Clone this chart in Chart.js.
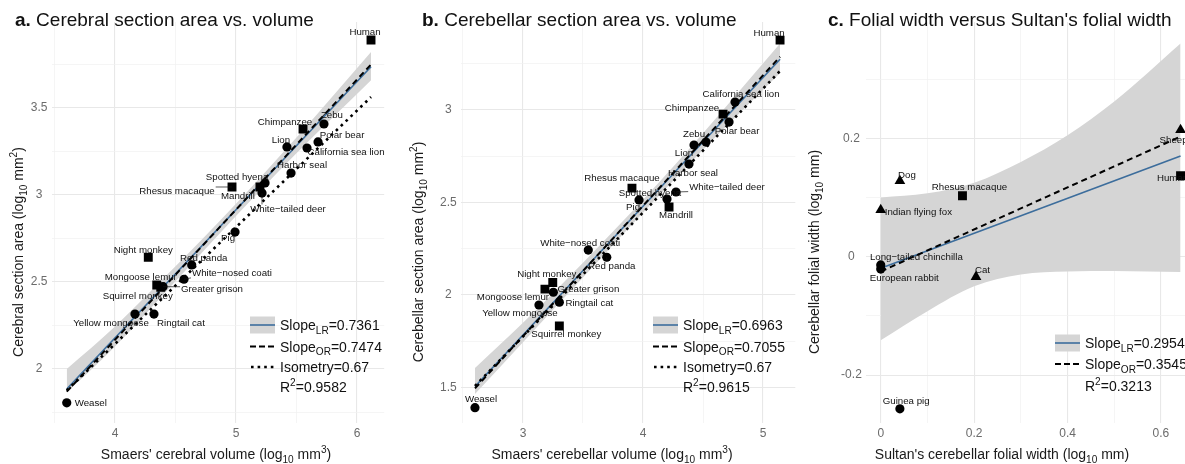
<!DOCTYPE html>
<html><head><meta charset="utf-8">
<script src="https://cdn.jsdelivr.net/npm/chart.js@4.4.0/dist/chart.umd.min.js"></script>
<style>
html,body{margin:0;padding:0;background:#fff;overflow:hidden;width:1185px;height:464px;position:relative;}
.p{position:absolute;top:0;width:400px;height:464px;}
canvas{display:block;}
</style></head><body>
<div class="p" style="left:0"><canvas id="ca" width="400" height="464"></canvas></div>
<div class="p" style="left:400px"><canvas id="cb" width="400" height="464"></canvas></div>
<div class="p" style="left:800px"><canvas id="cc" width="400" height="464"></canvas></div>
<script>
// ================= DATA =================
// Panel a: cerebral section area vs volume
const aNames = ["Human","Chimpanzee","Zebu","Lion","Polar bear","California sea lion","Harbor seal","Spotted hyena","Rhesus macaque","Mandrill","White\u2212tailed deer","Pig","Night monkey","Red panda","White\u2212nosed coati","Mongoose lemur","Greater grison","Squirrel monkey","Yellow mongoose","Ringtail cat","Weasel"];
const aGroup = ["P","P","O","O","O","O","O","O","P","P","O","O","P","O","O","P","O","P","O","O","O"];
const aX = [6.116,5.554,5.727,5.421,5.678,5.587,5.455,5.240,4.967,5.198,5.215,4.992,4.275,4.634,4.570,4.345,4.397,4.378,4.165,4.322,3.601];
const aY = [3.891,3.379,3.408,3.276,3.305,3.270,3.126,3.069,3.046,3.046,3.011,2.787,2.642,2.598,2.516,2.483,2.473,2.470,2.316,2.316,1.806];
const aLrX = [3.601,6.116], aLrY = [1.885,3.737];
const aOrX = [3.601,6.116], aOrY = [1.870,3.750];
const aIsoX = [3.601,6.116], aIsoY = [1.877,3.563];
const aBandX = [3.601,4.0,4.5,5.0,5.5,6.116];
const aBandUp = [2.000,2.245,2.590,2.950,3.330,3.822];
const aBandLo = [1.865,2.130,2.505,2.880,3.240,3.660];
const aXMajor = [4,5,6], aXMinor = [3.5,4.5,5.5];
const aYMajor = [2,2.5,3,3.5], aYMinor = [1.75,2.25,2.75,3.25,3.75];
const aStats = ["0.7361","0.7474","0.67","0.9582"];

// Panel b: cerebellar section area vs volume
const bNames = ["Human","California sea lion","Chimpanzee","Polar bear","Zebu","Lion","Harbor seal","Rhesus macaque","Spotted hyena","White\u2212tailed deer","Pig","Mandrill","White\u2212nosed coati","Red panda","Night monkey","Mongoose lemur","Greater grison","Ringtail cat","Yellow mongoose","Squirrel monkey","Weasel"];
const bGroup = ["P","O","P","O","O","O","O","P","O","O","O","P","O","O","P","P","O","O","O","P","O"];
const bX = [5.142,4.767,4.667,4.717,4.525,4.425,4.383,3.908,4.200,4.275,3.967,4.217,3.544,3.698,3.248,3.183,3.253,3.303,3.133,3.303,2.600];
const bY = [3.378,3.043,2.978,2.935,2.827,2.811,2.708,2.578,2.519,2.557,2.514,2.476,2.243,2.204,2.068,2.032,2.015,1.961,1.946,1.832,1.391];
const bLrX = [2.600,5.142], bLrY = [1.505,3.275];
const bOrX = [2.600,5.142], bOrY = [1.495,3.288];
const bIsoX = [2.600,5.142], bIsoY = [1.508,3.211];
const bBandX = [2.600,3.0,3.5,4.0,4.5,5.142];
const bBandUp = [1.605,1.850,2.175,2.515,2.875,3.360];
const bBandLo = [1.465,1.745,2.095,2.445,2.785,3.200];
const bXMajor = [3,4,5], bXMinor = [2.5,3.5,4.5];
const bYMajor = [1.5,2,2.5,3], bYMinor = [1.75,2.25,2.75,3.25];
const bStats = ["0.6963","0.7055","0.67","0.9615"];

// Panel c: folial width vs Sultan's folial width
const cNames = ["Sheep","Human","Dog","Rhesus macaque","Indian flying fox","Long\u2212tailed chinchilla","European rabbit","Cat","Guinea pig"];
const cGroup = ["T","P","T","P","T","O","O","T","O"];
const cX = [0.642,0.642,0.041,0.175,0.000,0.000,0.000,0.204,0.041];
const cY = [0.214,0.137,0.128,0.103,0.079,-0.014,-0.021,-0.034,-0.257];
const cLrX = [0,0.642], cLrY = [-0.0196,0.170];
const cOrX = [0,0.642], cOrY = [-0.025,0.203];
const cBandX = [0,0.1,0.2,0.3,0.4,0.5,0.642];
const cBandUp = [0.100,0.107,0.125,0.160,0.205,0.262,0.360];
const cBandLo = [-0.141,-0.092,-0.050,-0.030,-0.025,-0.024,-0.026];
const cXMajor = [0,0.2,0.4,0.6], cXMinor = [0.1,0.3,0.5];
const cYMajor = [-0.2,0,0.2], cYMinor = [-0.1,0.1,0.3];
const cStats = ["0.2954","0.3545","0.3213"];

// ================= STYLE / LAYOUT =================
const FONT = '"Liberation Sans", Arial, Helvetica, sans-serif';
const BLUE = '#3c6d9c';
const BAND = '#d5d5d5';
const LBL = 9.7;
const SHAPE = {P:'rect', O:'circle', T:'triangle'};
const RAD = {P:6.3, O:4.6, T:6.2};

const aOff = {"Human":[-6,-8],"Chimpanzee":[-18,-7],"Zebu":[8,-9],"Lion":[-6,-7],"Polar bear":[24,-7],"California sea lion":[39,4],"Harbor seal":[11,-8],"Spotted hyena":[-28,-6],"Rhesus macaque":[-55,4],"Mandrill":[-22,9],"White\u2212tailed deer":[26,16],"Pig":[-7,6],"Night monkey":[-5,-7],"Red panda":[12,-7],"White\u2212nosed coati":[48,-6],"Mongoose lemur":[-16,-8],"Greater grison":[49,3],"Squirrel monkey":[-23,9],"Yellow mongoose":[-24,9],"Ringtail cat":[27,9],"Weasel":[24,1]};
const bOff = {"Human":[-11,-7],"California sea lion":[6,-8],"Chimpanzee":[-31,-6],"Polar bear":[8,9],"Zebu":[-12,-8],"Lion":[-10,8],"Harbor seal":[4,9],"Rhesus macaque":[-10,-10],"Spotted hyena":[-17,-6],"White\u2212tailed deer":[51,-5],"Pig":[-6,7],"Mandrill":[7,8],"White\u2212nosed coati":[-8,-7],"Red panda":[5,9],"Night monkey":[-6,-8],"Mongoose lemur":[-32,8],"Greater grison":[35,-3],"Ringtail cat":[30,1],"Yellow mongoose":[-19,8],"Squirrel monkey":[7,8],"Weasel":[6,-8]};
const cOff = {"Sheep":[-7,10],"Human":[-8,2.5],"Dog":[7,-6],"Rhesus macaque":[7,-8],"Indian flying fox":[37.6,2],"Long\u2212tailed chinchilla":[35.6,-8],"European rabbit":[23.6,9],"Cat":[6.5,-6],"Guinea pig":[6.3,-7.3]};

const CFG = {
  ca: {off:0, names:aNames, group:aGroup, x:aX, y:aY, lrX:aLrX, lrY:aLrY, orX:aOrX, orY:aOrY, isoX:aIsoX, isoY:aIsoY,
       bandX:aBandX, bandUp:aBandUp, bandLo:aBandLo, xMajor:aXMajor, xMinor:aXMinor, yMajor:aYMajor, yMinor:aYMinor,
       xMin:3.475, xMax:6.225, yMin:1.690, yMax:3.994, left:51.5, padR:15.8, top:22, bottom:423,
       lblOff:aOff, leaders:["Rhesus macaque","White\u2212tailed deer","Greater grison","White\u2212nosed coati","Pig"],
       title:[{t:'a.',b:true},{t:' Cerebral section area vs. volume'}], titleX:15,
       xTitle:[{t:"Smaers' cerebral volume (log"},{t:'10',s:'sub'},{t:' mm'},{t:'3',s:'sup'},{t:')'}], xTitleX:216,
       yTitle:[{t:'Cerebral section area (log'},{t:'10',s:'sub'},{t:' mm'},{t:'2',s:'sup'},{t:')'}], yTitleX:18,
       legX:250, legTextX:280, legRows:[325,346.5,367,387], stats:aStats},
  cb: {off:400, names:bNames, group:bGroup, x:bX, y:bY, lrX:bLrX, lrY:bLrY, orX:bOrX, orY:bOrY, isoX:bIsoX, isoY:bIsoY,
       bandX:bBandX, bandUp:bBandUp, bandLo:bBandLo, xMajor:bXMajor, xMinor:bXMinor, yMajor:bYMajor, yMinor:bYMinor,
       xMin:2.481, xMax:5.269, yMin:1.308, yMax:3.476, left:60.7, padR:4.7, top:22, bottom:423,
       lblOff:bOff, leaders:["White\u2212tailed deer","Red panda"],
       title:[{t:'b.',b:true},{t:' Cerebellar section area vs. volume'}], titleX:422,
       xTitle:[{t:"Smaers' cerebellar volume (log"},{t:'10',s:'sub'},{t:' mm'},{t:'3',s:'sup'},{t:')'}], xTitleX:612,
       yTitle:[{t:'Cerebellar section area (log'},{t:'10',s:'sub'},{t:' mm'},{t:'2',s:'sup'},{t:')'}], yTitleX:418,
       legX:653, legTextX:683, legRows:[325,346.5,367,387], stats:bStats},
  cc: {off:800, names:cNames, group:cGroup, x:cX, y:cY, lrX:cLrX, lrY:cLrY, orX:cOrX, orY:cOrY, isoX:null, isoY:null,
       bandX:cBandX, bandUp:cBandUp, bandLo:cBandLo, xMajor:cXMajor, xMinor:cXMinor, yMajor:cYMajor, yMinor:cYMinor,
       xMin:-0.032, xMax:0.674, yMin:-0.281, yMax:0.3965, left:65.8, padR:4.5, top:22, bottom:423,
       lblOff:cOff, leaders:[],
       title:[{t:'c.',b:true},{t:" Folial width versus Sultan's folial width"}], titleX:828,
       xTitle:[{t:"Sultan's cerebellar folial width (log"},{t:'10',s:'sub'},{t:' mm)'}], xTitleX:1002,
       yTitle:[{t:'Cerebellar folial width (log'},{t:'10',s:'sub'},{t:' mm)'}], yTitleX:814,
       legX:1055, legTextX:1085, legRows:[343,364,386], stats:cStats}
};

function pts(xs, ys){ return xs.map((x,i)=>({x:x, y:ys[i]})); }

function drawRich(ctx, segs, x, y, size, align, color){
  const parts = segs.map(s => {
    const fs = s.s ? size*0.72 : size;
    const f = (s.b ? 'bold ' : '') + fs + 'px ' + FONT;
    ctx.font = f;
    return {s:s, f:f, w:ctx.measureText(s.t).width};
  });
  const tw = parts.reduce((a,p)=>a+p.w, 0);
  let cx = align === 'center' ? x - tw/2 : (align === 'right' ? x - tw : x);
  ctx.fillStyle = color; ctx.textAlign = 'left'; ctx.textBaseline = 'alphabetic';
  for (const p of parts){
    ctx.font = p.f;
    const dy = p.s.s === 'sub' ? size*0.28 : (p.s.s === 'sup' ? -size*0.4 : 0);
    ctx.fillText(p.s.t, cx, y + dy);
    cx += p.w;
  }
}

const annot = {
  id:'annot',
  afterDatasetsDraw(chart){
    const c = CFG[chart.canvas.id]; const ctx = chart.ctx;
    const xs = chart.scales.x, ys = chart.scales.y;
    ctx.save();
    ctx.font = LBL + 'px ' + FONT;
    c.names.forEach((nm, i) => {
      const px = xs.getPixelForValue(c.x[i]), py = ys.getPixelForValue(c.y[i]);
      const o = c.lblOff[nm] || [0,-8];
      const lx = px + o[0], ly = py + o[1];
      const w = ctx.measureText(nm).width, h = LBL*0.75;
      if (c.leaders.indexOf(nm) >= 0){
        const bx = Math.max(lx - w/2 - 1, Math.min(px, lx + w/2 + 1));
        const by = Math.max(ly - h/2 - 1, Math.min(py, ly + h/2 + 1));
        ctx.beginPath(); ctx.moveTo(px, py); ctx.lineTo(bx, by);
        ctx.strokeStyle = '#111'; ctx.lineWidth = 0.7; ctx.stroke();
      }
      ctx.fillStyle = '#111'; ctx.textAlign = 'center'; ctx.textBaseline = 'middle';
      ctx.fillText(nm, lx, ly);
    });
    ctx.restore();
  },
  afterDraw(chart){
    const c = CFG[chart.canvas.id]; const ctx = chart.ctx; const o = c.off;
    ctx.save();
    drawRich(ctx, c.title, c.titleX - o, 25.5, 19, 'left', '#111');
    drawRich(ctx, c.xTitle, c.xTitleX - o, 454 + 5, 14, 'center', '#1a1a1a');
    ctx.save();
    ctx.translate(c.yTitleX - o, 252);
    ctx.rotate(-Math.PI/2);
    drawRich(ctx, c.yTitle, 0, 14*0.36, 14, 'center', '#1a1a1a');
    ctx.restore();
    const kx = c.legX - o, tx = c.legTextX - o, r = c.legRows;
    const kinds = c.isoX ? ['band','dash','dot'] : ['band','dash'];
    const labels = c.isoX
      ? [[{t:'Slope'},{t:'LR',s:'sub'},{t:'='+c.stats[0]}],[{t:'Slope'},{t:'OR',s:'sub'},{t:'='+c.stats[1]}],[{t:'Isometry='+c.stats[2]}],[{t:'R'},{t:'2',s:'sup'},{t:'='+c.stats[3]}]]
      : [[{t:'Slope'},{t:'LR',s:'sub'},{t:'='+c.stats[0]}],[{t:'Slope'},{t:'OR',s:'sub'},{t:'='+c.stats[1]}],[{t:'R'},{t:'2',s:'sup'},{t:'='+c.stats[2]}]];
    kinds.forEach((k, i) => {
      const y = r[i];
      ctx.setLineDash([]);
      if (k === 'band'){
        ctx.fillStyle = BAND; ctx.fillRect(kx, y - 8.5, 25, 17);
        ctx.beginPath(); ctx.moveTo(kx, y); ctx.lineTo(kx + 25, y);
        ctx.strokeStyle = BLUE; ctx.lineWidth = 1.6; ctx.stroke();
      } else if (k === 'dash'){
        ctx.setLineDash([6,3]);
        ctx.beginPath(); ctx.moveTo(kx, y); ctx.lineTo(kx + 24, y);
        ctx.strokeStyle = '#000'; ctx.lineWidth = 2; ctx.stroke();
      } else {
        ctx.setLineDash([2.6,4]);
        ctx.beginPath(); ctx.moveTo(kx + 1, y); ctx.lineTo(kx + 25, y);
        ctx.strokeStyle = '#000'; ctx.lineWidth = 2.6; ctx.stroke();
      }
      ctx.setLineDash([]);
    });
    labels.forEach((seg, i) => drawRich(ctx, seg, tx, r[i] + 5, 14, 'left', '#111'));
    ctx.restore();
  }
};

function makePanel(id){
  const c = CFG[id];
  const majX = c.xMajor, majY = c.yMajor;
  const isMaj = (arr, v) => arr.some(m => Math.abs(m - v) < 1e-9);
  const datasets = [
    {data:pts(c.bandX, c.bandUp), fill:'+1', backgroundColor:BAND, borderColor:'rgba(0,0,0,0)', borderWidth:0, pointRadius:0, cubicInterpolationMode:'monotone', order:9},
    {data:pts(c.bandX, c.bandLo), fill:false, borderColor:'rgba(0,0,0,0)', borderWidth:0, pointRadius:0, cubicInterpolationMode:'monotone', order:8},
    {data:pts(c.lrX, c.lrY), fill:false, borderColor:BLUE, borderWidth:1.6, pointRadius:0, order:4},
    {data:pts(c.orX, c.orY), fill:false, borderColor:'#000', borderWidth:2, borderDash:[6,4], pointRadius:0, order:3}
  ];
  if (c.isoX) datasets.push({data:pts(c.isoX, c.isoY), fill:false, borderColor:'#000', borderWidth:2.6, borderDash:[2.6,4.2], pointRadius:0, order:2});
  datasets.push({data:pts(c.x, c.y), showLine:false, fill:false,
    pointStyle: ctx => SHAPE[c.group[ctx.dataIndex]] || 'circle',
    pointRadius: ctx => RAD[c.group[ctx.dataIndex]] || 4.6,
    pointBackgroundColor:'#000', pointBorderColor:'#000', pointBorderWidth:0, order:1});

  const gridOpt = (arr) => ({
    color: ctx => (ctx.tick && isMaj(arr, ctx.tick.value)) ? '#e8e8e8' : '#f0f0f0',
    lineWidth: ctx => (ctx.tick && isMaj(arr, ctx.tick.value)) ? 1.1 : 0.7,
    drawTicks:false
  });
  new Chart(document.getElementById(id), {
    type:'line',
    data:{datasets:datasets},
    options:{
      responsive:false, animation:false, devicePixelRatio:1, events:[],
      layout:{padding:{left:0, right:c.padR, top:c.top, bottom:0}, autoPadding:false},
      plugins:{legend:{display:false}, tooltip:{enabled:false}, title:{display:false}},
      scales:{
        x:{type:'linear', min:c.xMin, max:c.xMax,
           afterBuildTicks: s => { s.ticks = c.xMajor.concat(c.xMinor).sort((p,q)=>p-q).map(v=>({value:v})); },
           afterFit: s => { s.height = 464 - c.bottom; },
           grid:gridOpt(majX), border:{display:false},
           ticks:{callback: v => isMaj(majX, v) ? String(v) : '', color:'#6b6b6b', font:{family:FONT, size:12}, padding:3, maxRotation:0, autoSkip:false}
        },
        y:{type:'linear', min:c.yMin, max:c.yMax,
           afterBuildTicks: s => { s.ticks = c.yMajor.concat(c.yMinor).sort((p,q)=>p-q).map(v=>({value:v})); },
           afterFit: s => { s.width = c.left; },
           grid:gridOpt(majY), border:{display:false},
           ticks:{callback: v => isMaj(majY, v) ? String(v) : '', color:'#6b6b6b', font:{family:FONT, size:12}, padding:4, crossAlign:'center', autoSkip:false}
        }
      }
    },
    plugins:[annot]
  });
}
makePanel('ca'); makePanel('cb'); makePanel('cc');
</script>
</body></html>
